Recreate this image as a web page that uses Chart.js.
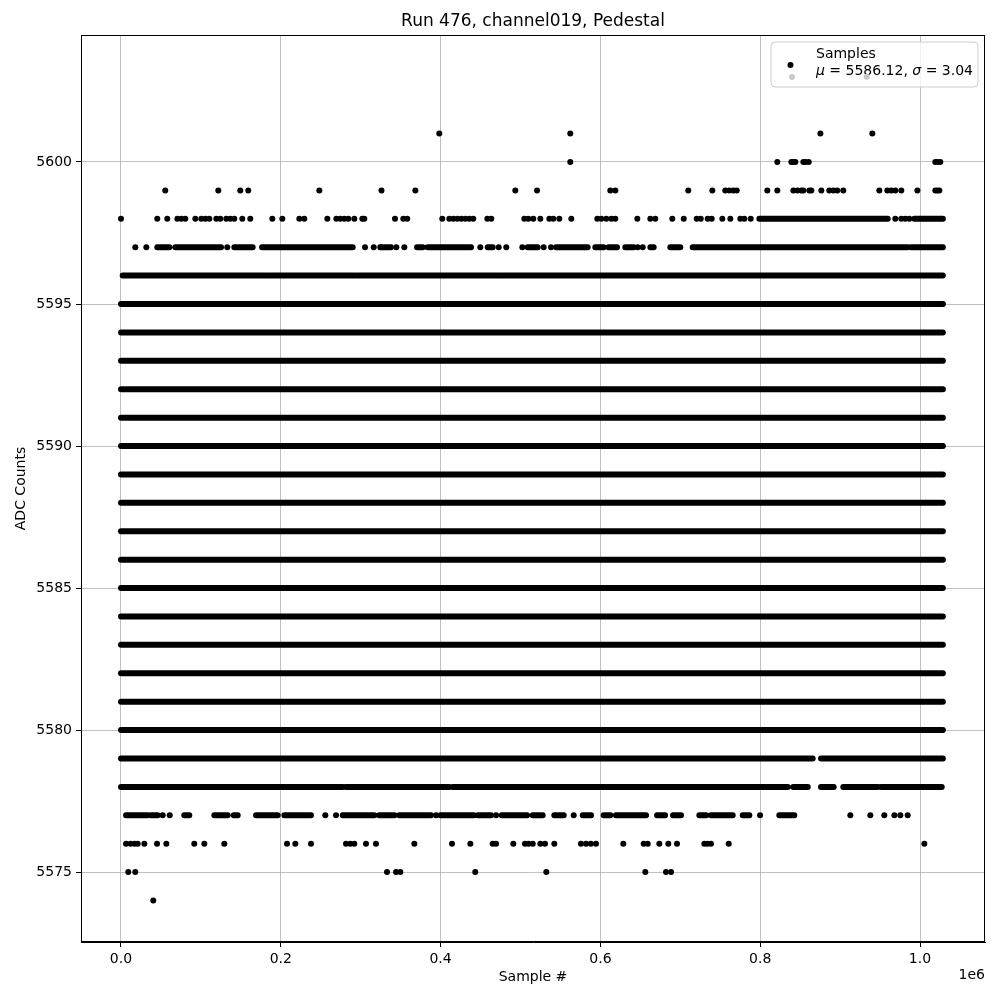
<!DOCTYPE html>
<html>
<head>
<meta charset="utf-8">
<script src="https://cdn.jsdelivr.net/npm/chart.js@4.4.0/dist/chart.umd.min.js"></script>
<style>
  html, body { margin:0; padding:0; background:#fff; }
  #wrap { width:1000px; height:1000px; }
</style>
</head>
<body>
<div id="wrap"><canvas id="adcChart" width="1000" height="1000"></canvas></div>
<script>
// ADC levels that are filled solidly across the whole run
const fullLevels = [5580, 5581, 5582, 5583, 5584, 5585, 5586, 5587, 5588, 5589, 5590, 5591, 5592, 5593, 5594, 5595];
const fullRun = [[0, 1028600]];

// semi-dense levels: runs of samples [start, end]
const runs5596 = [[2100, 183600], [185600, 294100], [296200, 471500], [473500, 1028600]];
const runs5597 = [[45400, 60500], [68000, 125200], [141800, 164800], [176500, 290000], [325400, 337900],
  [370500, 377600], [383900, 438100], [459000, 465200], [509000, 521500], [544500, 584100], [593600, 604100],
  [610400, 620800], [631200, 641700], [662500, 666700], [687500, 700000], [715500, 984600], [988800, 1028600]];
const runs5598 = [[798900, 959600], [992900, 1028600]];
const runs5579 = [[0, 865700], [876100, 1028600]];
const runs5578 = [[0, 277500], [281600, 410900], [415200, 834400], [841400, 859500], [876100, 892000],
  [904000, 947100], [951200, 1027200]];
const runs5577 = [[6300, 33400], [37500, 45900], [79200, 85500], [116800, 133500], [141100, 146100],
  [169000, 196100], [204400, 237800], [277500, 317000], [323300, 342100], [348300, 388000], [399600, 441400],
  [446500, 463100], [476500, 508200], [515300, 527800], [542300, 554100], [577900, 588300], [604100, 612400],
  [619500, 657100], [670900, 680900], [690900, 700900], [723800, 732200], [738400, 765600], [778100, 786400],
  [823900, 842700]];

// isolated samples per level (x = sample #)
const dots5601 = [398400, 562300, 875300, 940300];
const dots5600 = [562300, 821400, 839000, 841500, 844000, 854000, 856500, 860700, 1019200, 1021700, 1025400];
const dots5599 = [55400, 121800, 149300, 159300, 248200, 326000, 368400, 493500, 520700, 612400, 618700,
  710000, 740100, 756300, 761400, 766400, 770600, 808900, 821400, 841500, 846500, 851500, 854000, 861500,
  864000, 876500, 886500, 891500, 896500, 904000, 949100, 959100, 964100, 969100, 976600, 996700, 1019200,
  1021700, 1024200];
const dots5598 = [0, 45400, 57900, 70500, 75500, 80500, 93000, 100500, 105500, 110500, 119300, 124300, 131800,
  136800, 141800, 151800, 161800, 189400, 201900, 223200, 229400, 258200, 269500, 274500, 279500, 284500,
  292000, 302000, 304500, 342900, 353300, 358300, 402100, 410900, 415900, 420900, 425900, 430900, 435900,
  440900, 458500, 463500, 504800, 509800, 516000, 524800, 536100, 541100, 548600, 563600, 596100, 601100,
  607400, 613700, 618700, 646200, 662500, 668700, 690000, 704300, 720500, 725600, 734300, 739300, 752600,
  762600, 775100, 780100, 788100, 969100, 976600, 981600, 986600];
const dots5597 = [17900, 31700, 133000, 305400, 316300, 324500, 344600, 354600, 449700, 472700, 482200,
  502300, 529000, 538200, 646700, 653000];
const dots5577 = [52200, 61000, 255700, 269100, 394300, 469400, 566600, 799800, 912800, 937800, 955300,
  967900, 975400, 984600];
const dots5576 = [6300, 12000, 17000, 20900, 29200, 45100, 56700, 91700, 104300, 129300, 207800, 218200,
  237800, 281600, 287000, 292000, 306600, 319100, 367100, 414300, 437200, 465200, 469400, 491000, 505600,
  510000, 515300, 524800, 530700, 542300, 575700, 582000, 588000, 594500, 628700, 654200, 659200, 673700,
  685000, 695900, 730100, 734000, 738400, 760600, 1005400];
const dots5575 = [9100, 17900, 332900, 344200, 349600, 443400, 532300, 656200, 682100, 688400];
const dots5574 = [40400];

// second (grey) series from the legend
const statsX = [933300];
const statsY = [5603];

const xTicks = [0, 200000, 400000, 600000, 800000, 1000000];
const yTicks = [5575, 5580, 5585, 5590, 5595, 5600];

const FONT = 'DejaVu Sans';

function runPoints(level, runs){
  const out = [];
  runs.forEach(([a, b]) => {
    out.push({x:a, y:level}, {x:b, y:level}, {x:b, y:null});
  });
  return out;
}

const runTable = [[5596, runs5596], [5597, runs5597], [5598, runs5598], [5579, runs5579], [5578, runs5578], [5577, runs5577]];
fullLevels.forEach(l => runTable.push([l, fullRun]));

const dotTable = [[5601, dots5601], [5600, dots5600], [5599, dots5599], [5598, dots5598], [5597, dots5597],
  [5577, dots5577], [5576, dots5576], [5575, dots5575], [5574, dots5574]];

const datasets = [];
runTable.forEach(([lvl, runs]) => {
  datasets.push({
    data: runPoints(lvl, runs), showLine:true, spanGaps:false,
    borderColor:'#000', borderWidth:6, borderCapStyle:'round', pointRadius:0
  });
});
dotTable.forEach(([lvl, xs]) => {
  datasets.push({
    data: xs.map(x => ({x, y:lvl})),
    pointRadius:3, pointBackgroundColor:'#000', pointBorderWidth:0, showLine:false
  });
});
datasets.push({
  data: statsX.map((x, i) => ({x, y:statsY[i]})),
  pointRadius:3, pointBackgroundColor:'#c8c8c8', pointBorderWidth:0, showLine:false
});

const legendBox = {
  id:'legendBox',
  beforeDatasetsDraw(chart){
    const ctx = chart.ctx;
    ctx.save();
    const x = 771, y = 42, w = 207, h = 45, r = 4;
    ctx.beginPath();
    ctx.roundRect(x, y, w, h, r);
    ctx.fillStyle = 'rgba(255,255,255,0.8)';
    ctx.fill();
    ctx.strokeStyle = '#cccccc';
    ctx.lineWidth = 1;
    ctx.stroke();
    ctx.fillStyle = '#000';
    ctx.beginPath(); ctx.arc(790.5, 65, 3, 0, Math.PI*2); ctx.fill();
    ctx.fillStyle = '#c8c8c8';
    ctx.beginPath(); ctx.arc(792, 77, 3, 0, Math.PI*2); ctx.fill();
    ctx.fillStyle = '#000';
    ctx.textBaseline = 'middle';
    ctx.textAlign = 'left';
    ctx.font = `14px "${FONT}"`;
    ctx.fillText('Samples', 816, 54);
    // second line with italic symbols
    const parts = [['μ', true], [' = 5586.12, ', false], ['σ', true], [' = 3.04', false]];
    let tx = 816;
    parts.forEach(([s, it]) => {
      ctx.font = `${it ? 'italic ' : ''}14px "${FONT}"`;
      ctx.fillText(s, tx, 71);
      tx += ctx.measureText(s).width;
    });
    ctx.restore();
  }
};

const frameAndText = {
  id:'frameAndText',
  afterDraw(chart){
    const {ctx, chartArea:a} = chart;
    ctx.save();
    ctx.strokeStyle = '#000';
    ctx.lineWidth = 1;
    ctx.strokeRect(a.left + 0.5, a.top + 0.5, a.right - a.left - 1, a.bottom - a.top - 1);
    ctx.fillStyle = '#000';
    ctx.textAlign = 'center';
    ctx.textBaseline = 'middle';
    ctx.font = `17px "${FONT}"`;
    ctx.fillText('Run 476, channel019, Pedestal', (a.left + a.right) / 2, 22);
    ctx.font = `14px "${FONT}"`;
    ctx.fillText('Sample #', (a.left + a.right) / 2, 977);
    ctx.textAlign = 'right';
    ctx.fillText('1e6', a.right, 975);
    ctx.translate(21, (a.top + a.bottom) / 2);
    ctx.rotate(-Math.PI / 2);
    ctx.textAlign = 'center';
    ctx.fillText('ADC Counts', 0, 0);
    ctx.restore();
  }
};

new Chart(document.getElementById('adcChart'), {
  type:'scatter',
  data:{ datasets },
  options:{
    responsive:false,
    animation:false,
    devicePixelRatio:1,
    layout:{ padding:{ top:35, right:15, left:0, bottom:0 } },
    plugins:{ legend:{display:false}, tooltip:{enabled:false}, title:{display:false} },
    scales:{
      x:{
        type:'linear', min:-50060, max:1081350,
        afterBuildTicks: s => { s.ticks = xTicks.map(v => ({value:v})); },
        afterFit: s => { s.height = 58; },
        ticks:{ callback: v => (v / 1e6).toFixed(1), color:'#000', font:{family:FONT, size:14}, padding:4, maxRotation:0, autoSkip:false },
        grid:{ color:'#b0b0b0', lineWidth:0.8, tickColor:'#000', tickLength:5, tickWidth:1 },
        border:{ display:true, color:'#000', width:1 }
      },
      y:{
        type:'linear', min:5572.54, max:5604.47,
        afterBuildTicks: s => { s.ticks = yTicks.map(v => ({value:v})); },
        afterFit: s => { s.width = 81; },
        ticks:{ callback: v => String(v), color:'#000', font:{family:FONT, size:14}, padding:4, autoSkip:false },
        grid:{ color:'#b0b0b0', lineWidth:0.8, tickColor:'#000', tickLength:5, tickWidth:1 },
        border:{ display:true, color:'#000', width:1 }
      }
    }
  },
  plugins:[legendBox, frameAndText]
});
</script>
</body>
</html>
